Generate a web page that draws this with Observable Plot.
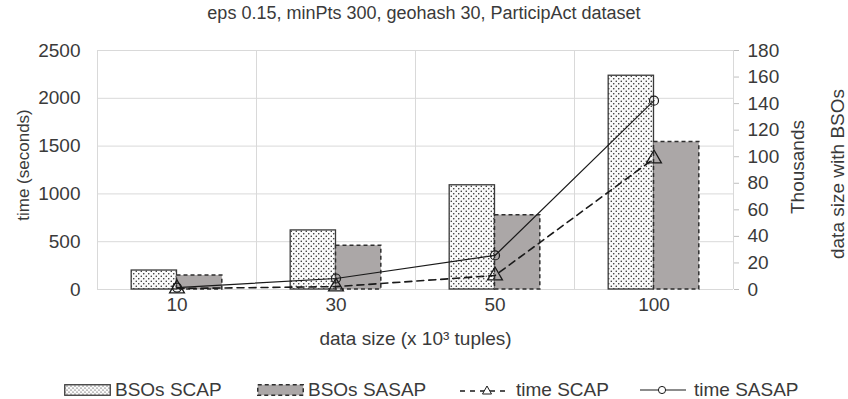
<!DOCTYPE html>
<html>
<head>
<meta charset="utf-8">
<script src="https://cdn.jsdelivr.net/npm/d3@7"></script>
<script src="https://cdn.jsdelivr.net/npm/@observablehq/plot@0.6"></script>
<style>
  html, body { margin: 0; padding: 0; background: #fff; }
  body { width: 848px; height: 399px; position: relative; overflow: hidden;
         font-family: "Liberation Sans", Arial, sans-serif; color: #3a3a3a; }
  #title { height: 30px; line-height: 27px; text-align: center; font-size: 18px; }
  #legend { position: absolute; top: 378px; left: 0; width: 848px; height: 24px; font-size: 19px; }
  .item { position: absolute; top: 0; height: 24px; display: flex; align-items: center; white-space: nowrap; }
  .item svg { margin-right: 4px; }
</style>
</head>
<body>
<div id="title">eps 0.15, minPts 300, geohash 30, ParticipAct dataset</div>
<div id="chart"></div>
<div id="legend"></div>
<script>
// ---- data ----
const categories = ["10", "30", "50", "100"];
const bsoScap = [14.3, 44.5, 78.5, 161];      // thousands
const bsoSasap = [10.5, 33, 56, 111];         // thousands
const timeScap = [10, 30, 146, 1370];         // seconds
const timeSasap = [20, 115, 356, 1975];       // seconds
const leftTicks = [0, 500, 1000, 1500, 2000, 2500];
const rightTicks = [0, 20, 40, 60, 80, 100, 120, 140, 160, 180];
const seriesNames = ["BSOs SCAP", "BSOs SASAP", "time SCAP", "time SASAP"];

const leftMax = 2500, rightMax = 180;
const k = leftMax / rightMax;
const halfW = 0.285;

const rows = categories.map((c, i) => ({
  i, c, scap: bsoScap[i], sasap: bsoSasap[i], tScap: timeScap[i], tSasap: timeSasap[i]
}));

const NS = "http://www.w3.org/2000/svg";
function defsMark() {
  const defs = document.createElementNS(NS, "defs");
  defs.innerHTML = `
    <pattern id="dots" patternUnits="userSpaceOnUse" width="5" height="5">
      <rect width="5" height="5" fill="#fafafa"></rect>
      <circle cx="1.25" cy="1.25" r="0.75" fill="#222"></circle>
      <circle cx="3.75" cy="3.75" r="0.75" fill="#222"></circle>
    </pattern>`;
  return defs;
}

const grid = "#d9d9d9";
const ink = "#3a3a3a";
const chart = Plot.plot({
  width: 848,
  height: 330,
  marginLeft: 97,
  marginRight: 115,
  marginTop: 20,
  marginBottom: 71,
  style: { fontFamily: "'Liberation Sans', Arial, sans-serif", fontSize: "19px", color: ink, background: "transparent", overflow: "visible" },
  x: { type: "linear", domain: [0, categories.length], axis: null },
  y: { domain: [0, leftMax], axis: null },
  marks: [
    defsMark,
    Plot.ruleY(leftTicks, { stroke: grid, strokeWidth: 1 }),
    Plot.ruleX(d3.range(0, categories.length + 1), { stroke: grid, strokeWidth: 1 }),
    Plot.axisY(leftTicks, { anchor: "left", tickSize: 0, tickPadding: 17, tickFormat: d => String(d), label: null }),
    Plot.axisY(rightTicks.map(v => v * k), { anchor: "right", tickSize: 5, tickPadding: 9, stroke: "#bfbfbf",
      tickFormat: d => String(Math.round(d / k)), label: null }),
    Plot.axisX(categories.map((c, i) => i + 0.5), { anchor: "bottom", tickSize: 0, tickPadding: 8,
      tickFormat: d => categories[Math.floor(d)], label: null }),
    Plot.rectY(rows, { x1: d => d.i + 0.5 - halfW, x2: d => d.i + 0.5, y1: 0, y2: d => d.scap * k,
      fill: "url(#dots)", stroke: ink, strokeWidth: 1.3 }),
    Plot.rectY(rows, { x1: d => d.i + 0.5, x2: d => d.i + 0.5 + halfW, y1: 0, y2: d => d.sasap * k,
      fill: "#aba7a7", stroke: "#2e2e2e", strokeWidth: 1.5, strokeDasharray: "4,3" }),
    Plot.line(rows, { x: d => d.i + 0.5, y: "tScap", stroke: "#1a1a1a", strokeWidth: 1.6, strokeDasharray: "7,5" }),
    Plot.dot(rows, { x: d => d.i + 0.5, y: "tScap", symbol: "triangle", r: 5.5, stroke: "#1a1a1a", strokeWidth: 1.3, fill: "none" }),
    Plot.line(rows, { x: d => d.i + 0.5, y: "tSasap", stroke: "#1a1a1a", strokeWidth: 1.2 }),
    Plot.dot(rows, { x: d => d.i + 0.5, y: "tSasap", symbol: "circle", r: 4.5, stroke: "#1a1a1a", strokeWidth: 1.2, fill: "none" }),
    Plot.text(["time (seconds)"], { frameAnchor: "left", textAnchor: "middle", dx: -74, dy: -5, rotate: -90, fontSize: 17, fill: ink }),
    Plot.text(["Thousands"], { frameAnchor: "right", textAnchor: "middle", dx: 64, dy: -3, rotate: -90, fill: ink }),
    Plot.text(["data size with BSOs"], { frameAnchor: "right", textAnchor: "middle", dx: 104, dy: 4, rotate: -90, fill: ink }),
    Plot.text(["data size (x 10³ tuples)"], { frameAnchor: "bottom", dy: 55, fill: ink })
  ]
});
document.getElementById("chart").appendChild(chart);

// ---- legend ----
const legend = document.getElementById("legend");
const swatches = [
  `<svg width="47" height="14"><defs><pattern id="dots2" patternUnits="userSpaceOnUse" width="4" height="4"><rect width="4" height="4" fill="#fafafa"/><circle cx="1" cy="1" r="0.6" fill="#222"/><circle cx="3" cy="3" r="0.6" fill="#222"/></pattern></defs><rect x="0.75" y="1.75" width="45.5" height="10.5" fill="url(#dots2)" stroke="#3a3a3a" stroke-width="1.3"/></svg>`,
  `<svg width="47" height="14"><rect x="0.75" y="1.75" width="45.5" height="10.5" fill="#aba7a7" stroke="#2e2e2e" stroke-width="1.5" stroke-dasharray="4,3"/></svg>`,
  `<svg width="48" height="16"><line x1="0" x2="48" y1="9" y2="9" stroke="#1a1a1a" stroke-width="1.4" stroke-dasharray="5,5"/><path d="M27,4 L31.5,12 L22.5,12 Z" fill="#fff" stroke="#1a1a1a" stroke-width="1"/></svg>`,
  `<svg width="46" height="16"><line x1="0" x2="46" y1="8" y2="8" stroke="#1a1a1a" stroke-width="1.2"/><circle cx="22" cy="8" r="3.6" fill="#fff" stroke="#1a1a1a" stroke-width="1"/></svg>`
];
const lefts = [64, 257, 460, 640];
seriesNames.forEach((name, i) => {
  const it = document.createElement("div");
  it.className = "item";
  it.style.left = lefts[i] + "px";
  it.innerHTML = swatches[i] + `<span style="margin-left:${i >= 2 ? 4 : 0}px">${name}</span>`;
  legend.appendChild(it);
});
</script>
</body>
</html>
